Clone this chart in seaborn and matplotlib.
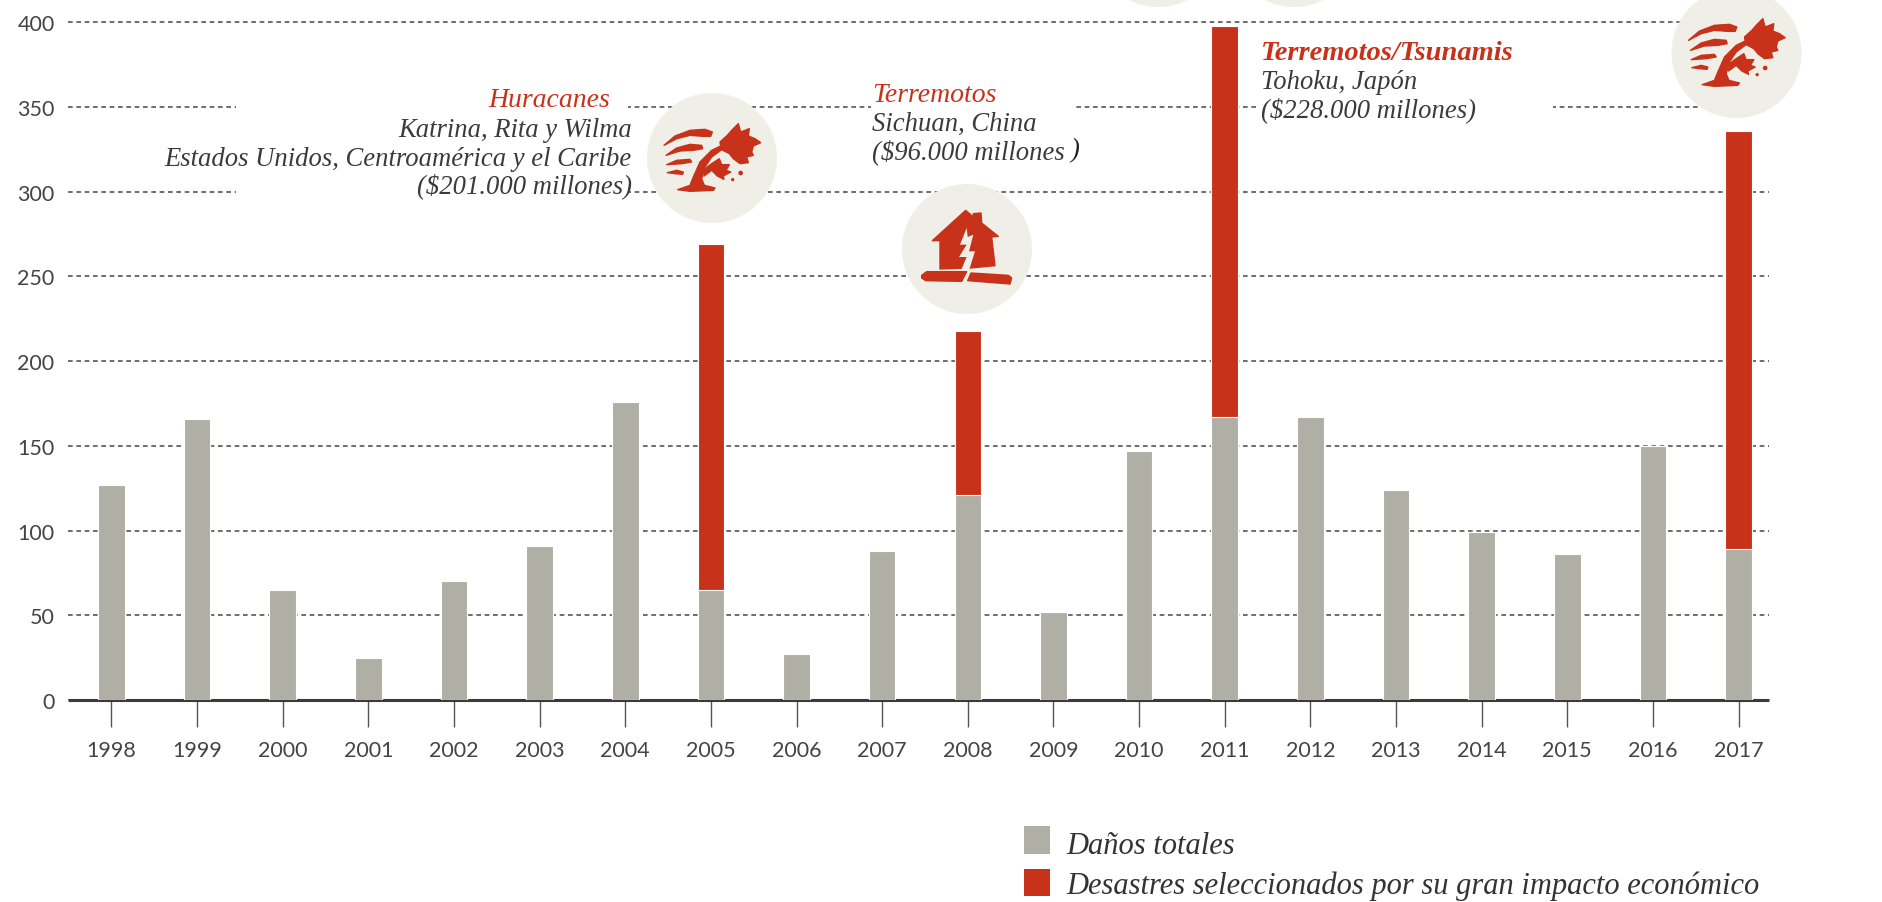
import pandas as pd
import matplotlib
matplotlib.use("Agg")
import matplotlib.pyplot as plt
from matplotlib.patches import Circle, Polygon, Rectangle
import seaborn as sns

# Values (miles de millones de dolares)
years = ["1998", "1999", "2000", "2001", "2002", "2003", "2004", "2005", "2006", "2007",
         "2008", "2009", "2010", "2011", "2012", "2013", "2014", "2015", "2016", "2017"]
total_damage = [127, 166, 65, 25, 70, 91, 176, 65, 27, 88,
                121, 52, 147, 167, 167, 124, 99, 86, 150, 89]
selected_damage = [0, 0, 0, 0, 0, 0, 0, 204, 0, 0,
                   97, 0, 0, 231, 0, 0, 0, 0, 0, 247]
y_ticks = [0, 50, 100, 150, 200, 250, 300, 350, 400]
legend_labels = ["Daños totales", "Desastres seleccionados por su gran impacto económico"]

GREY = "#AFAFA5"
RED = "#C8321A"
CREAM = "#EFEFE8"
INK = "#3A3A3F"
SERIF = "Liberation Serif"

# Icon outlines, in zoomed crop units around the circle centre
PALM_SHAPES = [
    [(72, 170), (105, 142), (150, 125), (195, 122), (217, 130), (212, 143), (190, 143), (150, 140), (110, 150)],
    [(78, 200), (110, 178), (150, 167), (185, 170), (188, 180), (160, 185), (120, 187)],
    [(80, 228), (110, 215), (150, 212), (155, 220), (125, 225)],
    [(82, 252), (110, 245), (130, 250), (128, 257), (105, 255)],
    [(113, 303), (150, 290), (160, 265), (180, 220), (215, 185), (242, 172), (240, 160), (262, 140), (275, 125),
     (295, 105), (302, 130), (328, 120), (325, 142), (345, 150), (362, 162), (340, 172), (335, 190), (340, 200),
     (320, 205), (325, 222), (300, 225), (280, 210), (268, 195), (245, 183), (215, 205), (195, 235), (185, 270),
     (193, 290), (225, 298), (220, 305), (150, 308)],
    [(195, 240), (215, 225), (238, 210), (245, 228), (268, 228), (258, 245), (272, 250), (250, 262), (252, 272),
     (232, 262), (215, 245), (192, 262)],
]
PALM_DOTS = [(302, 253, 7), (278, 273, 5)]
HOUSE_SHAPES = [
    [(112, 183), (212, 92), (235, 112), (235, 102), (258, 100), (260, 130), (310, 170), (290, 172), (300, 258),
     (225, 265), (135, 268), (135, 183)],
    [(80, 287), (95, 276), (215, 276), (200, 305), (92, 303), (80, 295)],
    [(228, 280), (340, 287), (350, 295), (345, 313), (218, 303)],
]
HOUSE_CRACK = [(215, 145), (195, 195), (215, 195), (192, 232), (215, 232), (198, 272), (222, 272), (240, 215),
               (222, 215), (235, 165), (218, 172)]


def draw_icon(ax, cx, cy, shapes, crack=None, dots=()):
    # Crop units are 3x pixels with the circle centre at (216, 208)
    def to_px(pt):
        return (cx + (pt[0] - 216) / 3, cy + (pt[1] - 208) / 3)
    for shape in shapes:
        ax.add_patch(Polygon([to_px(p) for p in shape], closed=True, fc=RED, ec=RED, lw=1.0, joinstyle="round"))
    if crack:
        ax.add_patch(Polygon([to_px(p) for p in crack], closed=True, fc=CREAM, ec="none"))
    for x, y, r in dots:
        ax.add_patch(Circle(to_px((x, y)), r / 3, fc=RED, ec="none"))


def note(ax, x, y, label, color=INK, ha="left", weight="normal", size=19.2):
    ax.text(x, y, label, color=color, ha=ha, va="baseline", family=SERIF, style="italic",
            fontsize=size, weight=weight)


sns.set_style("white")
plt.rcParams["font.family"] = ["Lato", "DejaVu Sans"]

data = pd.DataFrame({"year": years, "total": total_damage, "selected": selected_damage})
data["stacked"] = data["total"] + data["selected"]

W, H = 1883, 903
fig = plt.figure(figsize=(W / 100, H / 100), dpi=100)
ax = fig.add_axes([68.5 / W, 1 - 701 / H, (1769 - 68.5) / W, 701 / H])

sns.barplot(data=data, x="year", y="stacked", color=RED, saturation=1, width=0.31,
            edgecolor="white", linewidth=0.8, label=legend_labels[1], ax=ax, zorder=3)
sns.barplot(data=data, x="year", y="total", color=GREY, saturation=1, width=0.31,
            edgecolor="white", linewidth=0.8, label=legend_labels[0], ax=ax, zorder=3)

ax.set_xlim(-0.502, 19.356)
ax.set_ylim(0, 413.8)
ax.set_yticks(y_ticks)
ax.set_xlabel("")
ax.set_ylabel("")
ax.grid(axis="y", color="#555555", lw=1.2, linestyle=(0, (2.8, 2.2)))
ax.set_axisbelow(True)
sns.despine(ax=ax, left=True)
ax.spines["bottom"].set_color("#3A3A3A")
ax.spines["bottom"].set_linewidth(2.2)
ax.spines["bottom"].set_capstyle("butt")
ax.tick_params(axis="x", length=19.5, width=1.0, color="#555555", pad=9, labelsize=15.5, labelcolor="#444444", bottom=True)
ax.tick_params(axis="y", length=0, pad=10, labelsize=15.5, labelcolor="#444444")
ax.patch.set_alpha(0)
ax.legend().remove()

# Overlay in pixel coordinates for the notes and icons
over = fig.add_axes([0, 0, 1, 1], zorder=5)
over.set_xlim(0, W)
over.set_ylim(H, 0)
over.axis("off")

# White gaps in the grid behind the notes
over.add_patch(Rectangle((236, 88), 392, 116, fc="white", ec="none"))
over.add_patch(Rectangle((871, 84), 202, 70, fc="white", ec="none"))
over.add_patch(Rectangle((1259, 98), 294, 20, fc="white", ec="none"))

note(over, 549, 107, "Huracanes", color=RED, ha="center", size=20)
note(over, 632, 137, "Katrina, Rita y Wilma", ha="right")
note(over, 632, 166, "Estados Unidos, Centroamérica y el Caribe", ha="right")
note(over, 632, 193, "($201.000 millones)", ha="right")

note(over, 872, 102, "Terremotos", color=RED, size=20)
note(over, 872, 131, "Sichuan, China")
note(over, 872, 159, "($96.000 millones")
note(over, 1070, 157, ")", color="#222222")

note(over, 1261, 60, "Terremotos/Tsunamis", color=RED, weight="bold", size=20.5)
note(over, 1261, 89, "Tohoku, Japón")
note(over, 1261, 117, "($228.000 millones)")

for cx, cy in [(712, 159), (967, 250), (1736.5, 54), (1158, -57), (1294, -57)]:
    over.add_patch(Circle((cx, cy), 65, fc=CREAM, ec="none"))
draw_icon(over, 712, 159, PALM_SHAPES, dots=PALM_DOTS)
draw_icon(over, 967, 250, HOUSE_SHAPES, crack=HOUSE_CRACK)
draw_icon(over, 1736.5, 54, PALM_SHAPES, dots=PALM_DOTS)

# Legend
over.add_patch(Rectangle((1024, 827), 26, 28, fc=GREY, ec="none"))
over.add_patch(Rectangle((1024, 870), 26, 27, fc=RED, ec="none"))
over.text(1066, 854, legend_labels[0], color="#333333", va="baseline", family=SERIF, style="italic", fontsize=22)
over.text(1066, 894, legend_labels[1], color="#333333", va="baseline", family=SERIF, style="italic", fontsize=22)

fig.savefig("out.png", dpi=100, facecolor="white")
